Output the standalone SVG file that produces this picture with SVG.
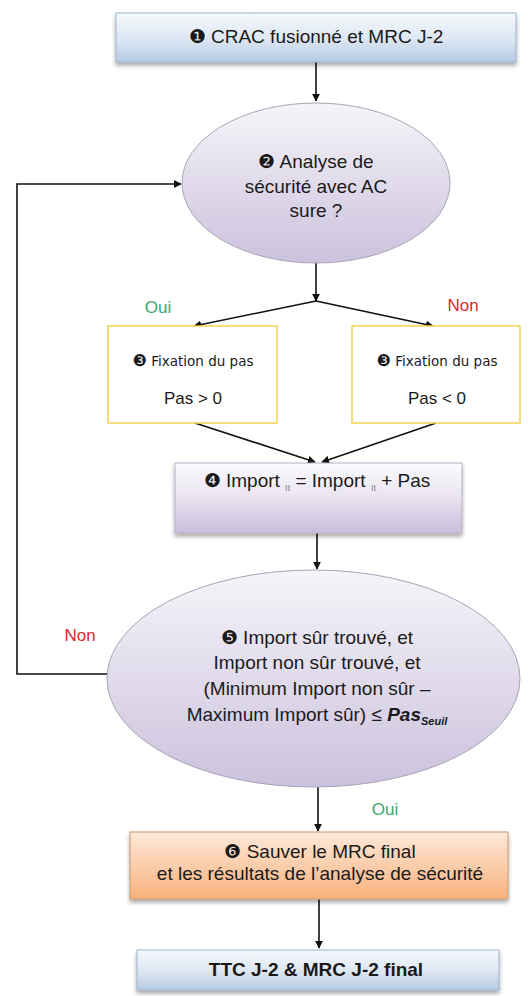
<svg xmlns="http://www.w3.org/2000/svg" width="531" height="996" viewBox="0 0 531 996">
<style>
text{font-family:"Liberation Sans",Arial,sans-serif;fill:#1a1a1a;text-anchor:middle}
.t{font-size:19px}
.s{font-family:"DejaVu Sans",sans-serif;font-size:13.5px}
.p{font-size:17px}
.oui{fill:#3aa870;font-size:17px}
.non{fill:#e0262a;font-size:17px}
.c{stroke:#111;stroke-width:1.6;fill:none}
</style>
<defs>
<linearGradient id="gb" x1="0" y1="0" x2="0" y2="1"><stop offset="0" stop-color="#f5f8fc"/><stop offset="0.5" stop-color="#dfe8f3"/><stop offset="1" stop-color="#b7cbe3"/></linearGradient>
<linearGradient id="gp" x1="0" y1="0" x2="0" y2="1"><stop offset="0" stop-color="#f6f4f9"/><stop offset="1" stop-color="#cbc2dd"/></linearGradient>
<linearGradient id="gb4" x1="0" y1="0" x2="0" y2="1"><stop offset="0" stop-color="#fbfafd"/><stop offset="0.45" stop-color="#ebe6f2"/><stop offset="1" stop-color="#c8bedb"/></linearGradient>
<linearGradient id="go" x1="0" y1="0" x2="0" y2="1"><stop offset="0" stop-color="#fde9da"/><stop offset="1" stop-color="#f8b17c"/></linearGradient>
<filter id="sh" x="-10%" y="-10%" width="120%" height="140%"><feGaussianBlur in="SourceAlpha" stdDeviation="2"/><feOffset dy="3"/><feComponentTransfer><feFuncA type="linear" slope="0.35"/></feComponentTransfer><feMerge><feMergeNode/><feMergeNode in="SourceGraphic"/></feMerge></filter>
<marker id="ar" viewBox="0 0 10 10" refX="9" refY="5" markerWidth="8" markerHeight="8" orient="auto" markerUnits="userSpaceOnUse"><path d="M0,0 L10,5 L0,10 z" fill="#111"/></marker>
</defs>

<g id="connectors">
<line class="c" x1="316" y1="62" x2="316" y2="101" marker-end="url(#ar)"/>
<line class="c" x1="316" y1="263" x2="316" y2="301" marker-end="url(#ar)"/>
<line class="c" x1="316" y1="301" x2="194" y2="326" marker-end="url(#ar)"/>
<line class="c" x1="316" y1="301" x2="433" y2="326" marker-end="url(#ar)"/>
<line class="c" x1="195" y1="423" x2="315" y2="462" marker-end="url(#ar)"/>
<line class="c" x1="436" y1="423" x2="322" y2="462" marker-end="url(#ar)"/>
<line class="c" x1="317" y1="533" x2="317" y2="569" marker-end="url(#ar)"/>
<polyline class="c" points="107,674 17,674 17,184 181,184" marker-end="url(#ar)"/>
<line class="c" x1="318" y1="787" x2="318" y2="831" marker-end="url(#ar)"/>
<line class="c" x1="319" y1="899" x2="319" y2="948" marker-end="url(#ar)"/>
<text class="oui" x="158" y="313">Oui</text>
<text class="non" x="463" y="311">Non</text>
<text class="non" x="80" y="641">Non</text>
<text class="oui" x="385" y="815">Oui</text>
</g>

<g id="n1">
<rect x="116" y="13" width="400" height="49" fill="url(#gb)" stroke="#9db3cf" stroke-width="1" filter="url(#sh)"/>
<text class="t" x="316" y="43">❶ CRAC fusionné et MRC J-2</text>
</g>

<g id="n2">
<ellipse cx="316" cy="183" rx="134" ry="80" fill="url(#gp)" stroke="#a9a3b5" stroke-width="1"/>
<text class="t" x="316" y="168">❷ Analyse de</text>
<text class="t" x="316" y="193">sécurité avec AC</text>
<text class="t" x="316" y="217">sure ?</text>
</g>

<g id="n3a">
<rect x="108" y="326" width="169" height="97" fill="#fff" stroke="#f2d24e" stroke-width="1.5"/>
<text class="s" x="193" y="366"><tspan font-size="16">❸</tspan> Fixation du pas</text>
<text class="p" x="193" y="404">Pas &gt; 0</text>
</g>

<g id="n3b">
<rect x="352" y="326" width="168" height="97" fill="#fff" stroke="#f2d24e" stroke-width="1.5"/>
<text class="s" x="437" y="366"><tspan font-size="16">❸</tspan> Fixation du pas</text>
<text class="p" x="437" y="404">Pas &lt; 0</text>
</g>

<g id="n4">
<rect x="175" y="463" width="287" height="70" fill="url(#gb4)" stroke="#b9b2c6" stroke-width="1" filter="url(#sh)"/>
<text class="t" x="317" y="487">❹ Import <tspan font-size="9" fill="#888" dy="4">It</tspan><tspan dy="-4"> = Import </tspan><tspan font-size="9" fill="#888" dy="4">It</tspan><tspan dy="-4"> + Pas</tspan></text>
</g>

<g id="n5">
<ellipse cx="313.5" cy="678.5" rx="206.5" ry="108.5" fill="url(#gp)" stroke="#a9a3b5" stroke-width="1"/>
<text class="t" x="317" y="644">❺ Import sûr trouvé, et</text>
<text class="t" x="317" y="669">Import non sûr trouvé, et</text>
<text class="t" x="317" y="695">(Minimum Import non sûr –</text>
<text class="t" x="317" y="721">Maximum  Import sûr) ≤ <tspan font-weight="bold" font-style="italic">Pas</tspan><tspan font-weight="bold" font-style="italic" font-size="11" dy="4">Seuil</tspan></text>
</g>

<g id="n6">
<rect x="130" y="832" width="378" height="67" fill="url(#go)" stroke="#c99a74" stroke-width="1" filter="url(#sh)"/>
<text class="t" x="320" y="858">❻ Sauver le MRC final</text>
<text class="t" x="320" y="880">et les résultats de l’analyse de sécurité</text>
</g>

<g id="n7">
<rect x="137" y="950" width="362" height="40" fill="url(#gb)" stroke="#9db3cf" stroke-width="1" filter="url(#sh)"/>
<text class="t" x="316" y="976" font-weight="bold" font-size="18">TTC J-2 &amp; MRC J-2 final</text>
</g>
</svg>
